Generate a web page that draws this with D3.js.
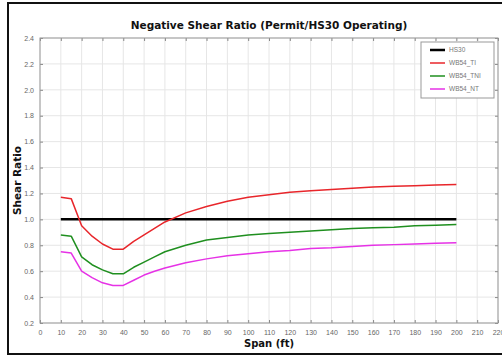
<!DOCTYPE html>
<html>
<head>
<meta charset="utf-8">
<script src="https://cdn.jsdelivr.net/npm/d3@7"></script>
<style>
  body { margin: 0; background: #fff; }
  svg { display: block; }
</style>
</head>
<body>
<script>
var span = [10, 15, 20, 25, 30, 35, 40, 45, 50, 55, 60, 70, 80, 90, 100, 110, 120, 130, 140, 150, 160, 170, 180, 190, 200];
var hs30 = [1.0, 1.0, 1.0, 1.0, 1.0, 1.0, 1.0, 1.0, 1.0, 1.0, 1.0, 1.0, 1.0, 1.0, 1.0, 1.0, 1.0, 1.0, 1.0, 1.0, 1.0, 1.0, 1.0, 1.0, 1.0];
var wb54Ti = [1.17, 1.16, 0.95, 0.87, 0.81, 0.77, 0.77, 0.83, 0.88, 0.93, 0.98, 1.05, 1.10, 1.14, 1.17, 1.19, 1.21, 1.22, 1.23, 1.24, 1.25, 1.255, 1.26, 1.265, 1.27];
var wb54Tni = [0.88, 0.87, 0.71, 0.65, 0.61, 0.58, 0.58, 0.63, 0.67, 0.71, 0.75, 0.80, 0.84, 0.86, 0.88, 0.89, 0.90, 0.91, 0.92, 0.93, 0.935, 0.94, 0.95, 0.955, 0.96];
var wb54Nt = [0.75, 0.74, 0.60, 0.55, 0.51, 0.49, 0.49, 0.53, 0.57, 0.60, 0.625, 0.665, 0.695, 0.72, 0.735, 0.75, 0.76, 0.775, 0.78, 0.79, 0.80, 0.805, 0.81, 0.815, 0.82];
var seriesNames = ["HS30", "WB54_TI", "WB54_TNI", "WB54_NT"];
var seriesColors = ["#000000", "#e8262b", "#1f8f1f", "#e632e6"];
var xTicks = d3.range(0, 221, 10);
var yTicks = [0.2, 0.4, 0.6, 0.8, 1.0, 1.2, 1.4, 1.6, 1.8, 2.0, 2.2, 2.4];

var W = 502, H = 358;
var margin = {left: 40, top: 38, right: 4, bottom: 35};

var svg = d3.select("body").append("svg")
	.attr("width", W)
	.attr("height", H);

// figure frame
svg.append("rect")
	.attr("x", 8).attr("y", 3)
	.attr("width", 500).attr("height", 351)
	.attr("fill", "none")
	.style("stroke", "#111")
	.style("stroke-width", 2);

var x = d3.scaleLinear().domain([0, 220]).range([margin.left, W - margin.right]);
var y = d3.scaleLinear().domain([0.2, 2.4]).range([H - margin.bottom, margin.top]);

// grid
svg.append("g").selectAll("line").data(xTicks).enter().append("line")
	.attr("x1", function(d){ return x(d); }).attr("x2", function(d){ return x(d); })
	.attr("y1", y(0.2)).attr("y2", y(2.4))
	.style("stroke", "#e6e6e6").style("stroke-width", 1);
svg.append("g").selectAll("line").data(yTicks).enter().append("line")
	.attr("x1", x(0)).attr("x2", x(220))
	.attr("y1", function(d){ return y(d); }).attr("y2", function(d){ return y(d); })
	.style("stroke", "#e6e6e6").style("stroke-width", 1);

// axes (inward ticks, box)
var axStyle = function(g){
	g.select(".domain").remove();
	g.selectAll("line").style("stroke", "#888");
	g.selectAll("text").style("fill", "#666").style("font-family", "Arial, 'Liberation Sans', sans-serif").style("font-size", "7px");
};
svg.append("g")
	.attr("transform", "translate(0," + y(0.2) + ")")
	.call(d3.axisBottom(x).tickValues(xTicks).tickSizeInner(-3).tickSizeOuter(0).tickPadding(7))
	.call(axStyle);
svg.append("g")
	.attr("transform", "translate(" + x(0) + ",0)")
	.call(d3.axisLeft(y).tickValues(yTicks).tickSizeInner(-3).tickSizeOuter(0).tickPadding(6).tickFormat(d3.format(".1f")))
	.call(axStyle);
svg.append("g")
	.attr("transform", "translate(0," + y(2.4) + ")")
	.call(d3.axisTop(x).tickValues(xTicks).tickSizeInner(-3).tickSizeOuter(0).tickFormat(""))
	.call(axStyle);
svg.append("g")
	.attr("transform", "translate(" + x(220) + ",0)")
	.call(d3.axisRight(y).tickValues(yTicks).tickSizeInner(-3).tickSizeOuter(0).tickFormat(""))
	.call(axStyle);

svg.append("rect")
	.attr("x", x(0)).attr("y", y(2.4))
	.attr("width", x(220) - x(0)).attr("height", y(0.2) - y(2.4))
	.attr("fill", "none")
	.style("stroke", "#999").style("stroke-width", 1);

// lines
var allSeries = [hs30, wb54Ti, wb54Tni, wb54Nt];
var line = d3.line()
	.x(function(d, i){ return x(span[i]); })
	.y(function(d){ return y(d); });

allSeries.forEach(function(s, k){
	svg.append("path")
		.datum(s)
		.attr("d", line)
		.attr("fill", "none")
		.style("stroke", seriesColors[k])
		.style("stroke-width", k == 0 ? 2.5 : 1.5)
		.style("stroke-linejoin", "round");
});

// legend
var leg = svg.append("g");
leg.append("rect")
	.attr("x", 421).attr("y", 42)
	.attr("width", 73).attr("height", 56)
	.attr("fill", "#fff")
	.style("stroke", "#999").style("stroke-width", 1);
seriesNames.forEach(function(n, k){
	var ly = 50 + k * 13;
	leg.append("line")
		.attr("x1", 430).attr("x2", 445)
		.attr("y1", ly).attr("y2", ly)
		.style("stroke", seriesColors[k])
		.style("stroke-width", k == 0 ? 2.5 : 1.5);
	leg.append("text")
		.attr("x", 449).attr("y", ly)
		.attr("dy", ".35em")
		.style("font-family", "Arial, 'Liberation Sans', sans-serif")
		.style("font-size", "6.5px")
		.style("fill", "#777")
		.text(n);
});

// titles
svg.append("text")
	.attr("x", (x(0) + x(220)) / 2).attr("y", 25)
	.attr("dy", ".35em")
	.style("text-anchor", "middle")
	.style("font-family", "Verdana, 'DejaVu Sans', sans-serif")
	.style("font-weight", "bold")
	.style("font-size", "10.5px")
	.style("fill", "#111")
	.text("Negative Shear Ratio (Permit/HS30 Operating)");

svg.append("text")
	.attr("x", (x(0) + x(220)) / 2).attr("y", 343)
	.attr("dy", ".35em")
	.style("text-anchor", "middle")
	.style("font-family", "Verdana, 'DejaVu Sans', sans-serif")
	.style("font-weight", "bold")
	.style("font-size", "10px")
	.style("fill", "#111")
	.text("Span (ft)");

svg.append("text")
	.attr("transform", "translate(17," + ((y(0.2) + y(2.4)) / 2) + ") rotate(-90)")
	.attr("dy", ".35em")
	.style("text-anchor", "middle")
	.style("font-family", "Verdana, 'DejaVu Sans', sans-serif")
	.style("font-weight", "bold")
	.style("font-size", "10.5px")
	.style("fill", "#111")
	.text("Shear Ratio");
</script>
</body>
</html>
